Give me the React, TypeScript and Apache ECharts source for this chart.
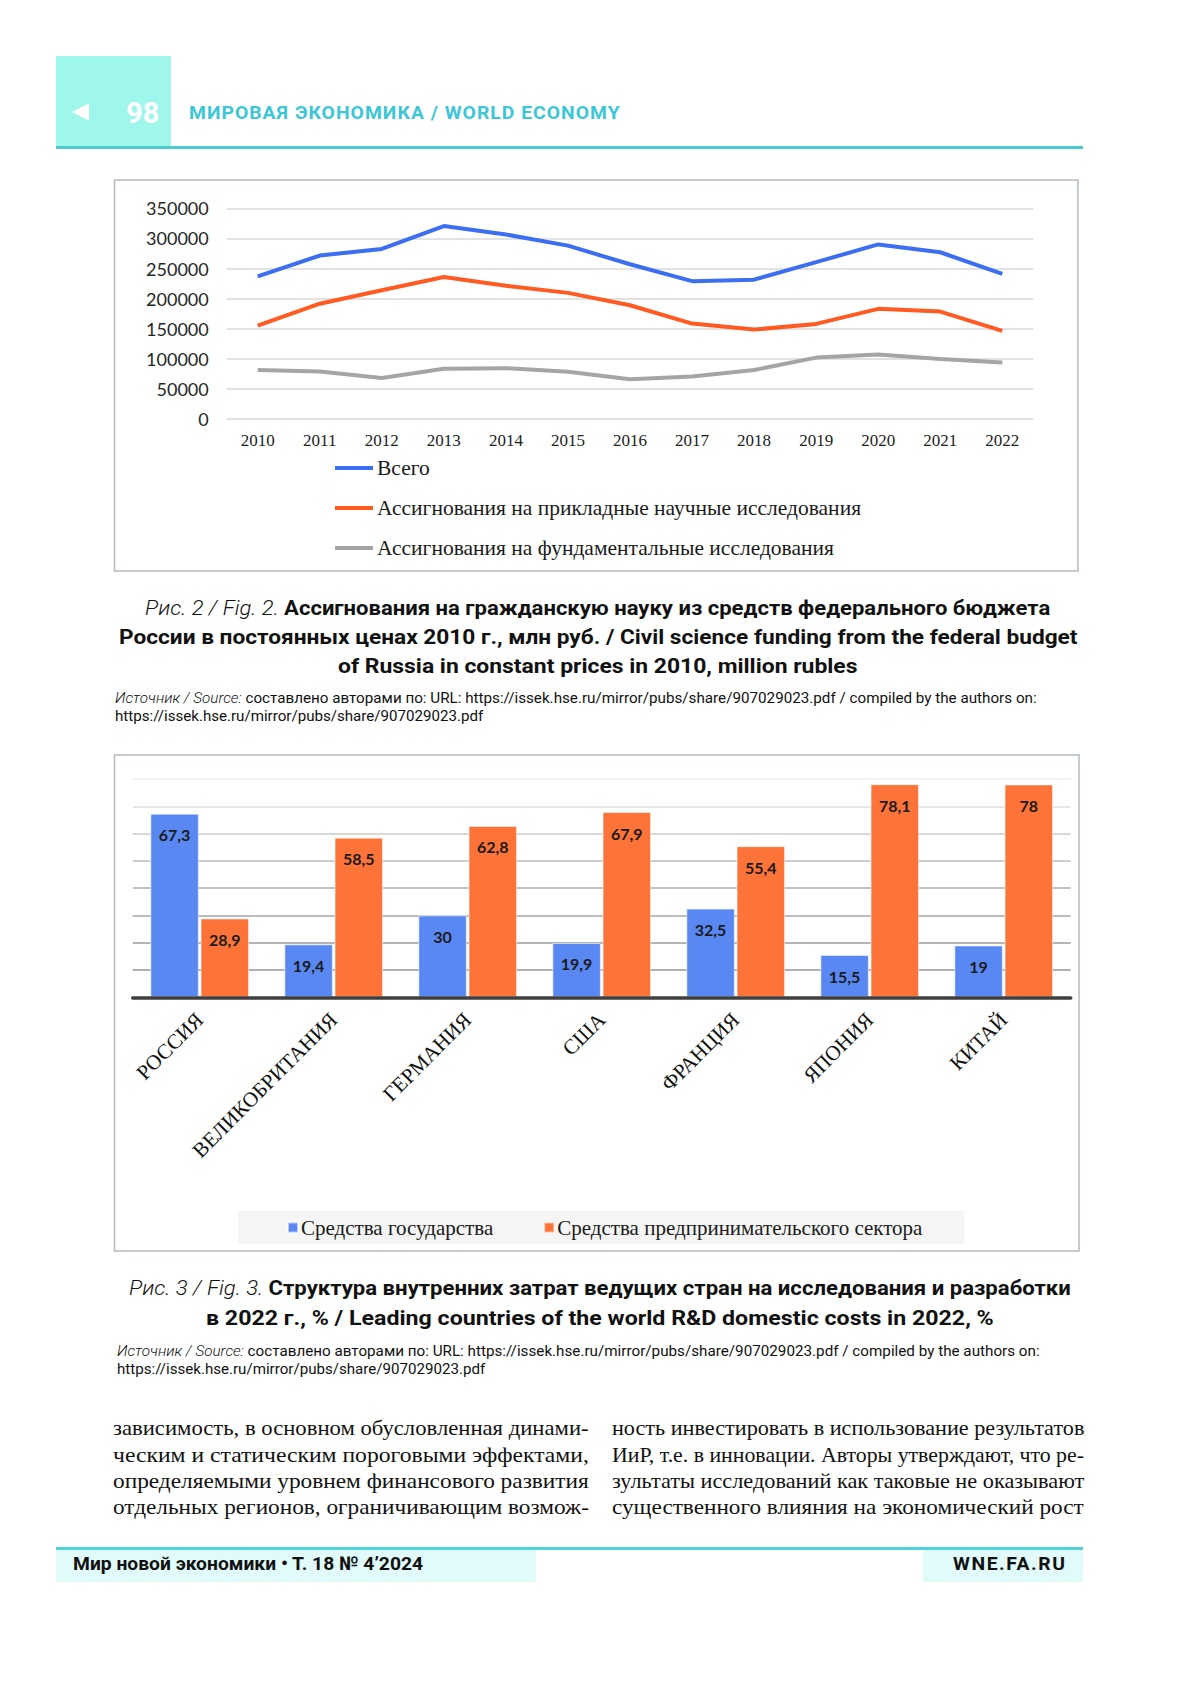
import React, { useEffect, useLayoutEffect, useRef } from "react";
import * as echarts from "echarts";

// ---------- data ----------
const years = ["2010", "2011", "2012", "2013", "2014", "2015", "2016", "2017", "2018", "2019", "2020", "2021", "2022"];
const totalFunding = [237000, 271500, 282500, 320500, 306500, 288000, 257000, 229000, 231500, 260500, 290000, 277000, 241000];
const appliedFunding = [155000, 191500, 214000, 236000, 221500, 209500, 189000, 158500, 148500, 158000, 183000, 178500, 146500];
const basicFunding = [81500, 79000, 68000, 83500, 84500, 78500, 66000, 70500, 81500, 102000, 107000, 99500, 94000];
const lineNames = [
  "Всего",
  "Ассигнования на прикладные научные исследования",
  "Ассигнования на фундаментальные исследования",
];

const countries = ["РОССИЯ", "ВЕЛИКОБРИТАНИЯ", "ГЕРМАНИЯ", "США", "ФРАНЦИЯ", "ЯПОНИЯ", "КИТАЙ"];
const govShare = [67.3, 19.4, 30, 19.9, 32.5, 15.5, 19];
const businessShare = [28.9, 58.5, 62.8, 67.9, 55.4, 78.1, 78];
const barNames = ["Средства государства", "Средства предпринимательского сектора"];

const SANS = "Roboto, 'Noto Sans', 'DejaVu Sans', sans-serif";
const SERIF = "'Liberation Serif', 'Times New Roman', serif";
const CAL = "Lato, 'Open Sans', sans-serif";

// ---------- text line fitted to a measured width ----------
function FitLine(props: {
  x: number; y: number; w: number; h?: number; center?: boolean; justify?: boolean;
  style?: React.CSSProperties; children: React.ReactNode;
}) {
  const { x, y, w, h = 24, center = false, justify = false, style, children } = props;
  const ref = useRef<HTMLSpanElement>(null);
  useLayoutEffect(() => {
    const measure = () => {
      const el = ref.current;
      if (!el) return;
      el.style.wordSpacing = "0px";
      el.style.transform = "none";
      const nat = el.offsetWidth;
      if (!nat) return;
      const spaces = ((el.textContent || "").match(/ /g) || []).length;
      if (justify && nat <= w && spaces > 0) {
        el.style.wordSpacing = (w - nat) / spaces + "px";
      } else {
        el.style.transform = `scaleX(${w / nat})`;
      }
    };
    measure();
    const f = (document as any).fonts;
    if (f && f.ready) f.ready.then(measure);
  }, [w, justify]);
  return (
    <div
      style={{
        position: "absolute",
        left: center ? x - w / 2 : x,
        top: y - h / 2,
        width: w,
        height: h,
        lineHeight: h + "px",
        whiteSpace: "nowrap",
        overflow: "visible",
        ...style,
      }}
    >
      <span ref={ref} style={{ display: "inline-block", transformOrigin: "left center" }}>
        {children}
      </span>
    </div>
  );
}

const capStyle: React.CSSProperties = { fontFamily: SANS, fontSize: 21, color: "#111" };
const it: React.CSSProperties = { fontStyle: "italic", fontWeight: 300 };
const bd: React.CSSProperties = { fontWeight: 700 };
const srcStyle: React.CSSProperties = { fontFamily: SANS, fontSize: 14, color: "#111" };
const bodyStyle: React.CSSProperties = { fontFamily: SERIF, fontSize: 22, color: "#111" };

export default function App() {
  const chartRef = useRef<HTMLDivElement>(null);

  useEffect(() => {
    if (!chartRef.current) return;
    const chart = echarts.init(chartRef.current, null, { renderer: "svg" });
    const fmt = (p: any) => String(p.value).replace(".", ",");
    chart.setOption({
      animation: false,
      backgroundColor: "transparent",
      graphic: [
        { type: "rect", z: -1, shape: { x: 114.5, y: 180, width: 963.5, height: 391 }, style: { fill: "#fff", stroke: "#b4bcbc", lineWidth: 1.5 } },
        { type: "rect", z: -1, shape: { x: 114.5, y: 755, width: 964.5, height: 496 }, style: { fill: "#fff", stroke: "#b4bcbc", lineWidth: 1.5 } },
      ],
      grid: [
        { left: 226.7, top: 208.3, width: 806.6, height: 210.7, containLabel: false, outerBoundsMode: "none" },
        { left: 132.7, top: 779, width: 938, height: 218.3, containLabel: false, outerBoundsMode: "none" },
      ],
      legend: [
        {
          data: lineNames,
          orient: "vertical",
          left: 335,
          top: 457,
          icon: "rect",
          itemWidth: 38,
          itemHeight: 4,
          itemGap: 18,
          padding: 0,
          textStyle: { fontFamily: SERIF, fontSize: 21.5, color: "#1a1a1a", padding: [0, 0, 0, -1] },
        },
        {
          data: barNames,
          orient: "horizontal",
          left: 238,
          top: 1211,
          icon: "rect",
          itemWidth: 10,
          itemHeight: 10,
          itemGap: 50,
          padding: [6, 42, 6, 49],
          backgroundColor: "#f5f5f5",
          textStyle: { fontFamily: SERIF, fontSize: 21, color: "#1a1a1a", padding: [0, 0, 0, -2] },
        },
      ],
      xAxis: [
        {
          type: "category",
          gridIndex: 0,
          data: years,
          boundaryGap: true,
          axisLine: { show: false },
          axisTick: { show: false },
          axisLabel: { fontFamily: SERIF, fontSize: 17, color: "#222", margin: 13 },
        },
        {
          type: "category",
          gridIndex: 1,
          data: countries,
          boundaryGap: true,
          axisLine: { show: true, lineStyle: { color: "#3f3f3f", width: 3.5 } },
          axisTick: { show: false },
          axisLabel: { fontFamily: SERIF, fontSize: 21, color: "#111", rotate: 45, margin: 19, interval: 0 },
          z: 5,
        },
      ],
      yAxis: [
        {
          type: "value",
          gridIndex: 0,
          min: 0,
          max: 350000,
          interval: 50000,
          axisLine: { show: false },
          axisTick: { show: false },
          axisLabel: { fontFamily: CAL, fontSize: 18, color: "#262626", margin: 18, formatter: (v: number) => String(v) },
          splitLine: { lineStyle: { color: "#d9d9d9", width: 1.5 } },
        },
        {
          type: "value",
          gridIndex: 1,
          min: 0,
          max: 80,
          interval: 10,
          axisLine: { show: false },
          axisTick: { show: false },
          axisLabel: { show: false },
          splitLine: {
            lineStyle: {
              color: ["#b0b0b0", "#b0b0b0", "#b5b5b5", "#bcbcbc", "#c2c2c2", "#cdcdcd", "#d8d8d8", "#e6e6e6", "#f3f3f3"],
              width: 2,
            },
          },
        },
      ],
      series: [
        { name: lineNames[0], type: "line", xAxisIndex: 0, yAxisIndex: 0, data: totalFunding, showSymbol: false, lineStyle: { color: "#3b6ef1", width: 4 }, itemStyle: { color: "#3b6ef1" } },
        { name: lineNames[1], type: "line", xAxisIndex: 0, yAxisIndex: 0, data: appliedFunding, showSymbol: false, lineStyle: { color: "#ff5a22", width: 4 }, itemStyle: { color: "#ff5a22" } },
        { name: lineNames[2], type: "line", xAxisIndex: 0, yAxisIndex: 0, data: basicFunding, showSymbol: false, lineStyle: { color: "#a5a5a5", width: 4 }, itemStyle: { color: "#a5a5a5" } },
        {
          name: barNames[0], type: "bar", xAxisIndex: 1, yAxisIndex: 1, data: govShare,
          barWidth: 48.5, barGap: "3.5%",
          itemStyle: { color: "#5a88f2", borderColor: "rgba(255,255,255,0.55)", borderWidth: 1 },
          label: { show: true, position: "insideTop", distance: 13, fontFamily: CAL, fontSize: 16, fontWeight: "bold", color: "#1a1a1a", formatter: fmt },
        },
        {
          name: barNames[1], type: "bar", xAxisIndex: 1, yAxisIndex: 1, data: businessShare,
          barWidth: 48.5, barGap: "3.5%",
          itemStyle: { color: "#fe7337", borderColor: "rgba(255,255,255,0.55)", borderWidth: 1 },
          label: { show: true, position: "insideTop", distance: 13, fontFamily: CAL, fontSize: 16, fontWeight: "bold", color: "#1a1a1a", formatter: fmt },
        },
      ],
    });
    return () => chart.dispose();
  }, []);

  return (
    <div style={{ position: "absolute", left: 0, top: 0, width: 1200, height: 1697, background: "#fff", overflow: "hidden" }}>
      <div ref={chartRef} style={{ position: "absolute", left: 0, top: 0, width: 1200, height: 1697 }} />

      {/* header */}
      <div style={{ position: "absolute", left: 56, top: 56, width: 115, height: 91, background: "#9ff6ea" }} />
      <div style={{ position: "absolute", left: 72, top: 103, width: 0, height: 0, borderTop: "9px solid transparent", borderBottom: "9px solid transparent", borderRight: "17px solid #fff" }} />
      <FitLine x={126} y={113} w={33} h={34} style={{ fontFamily: SANS, fontSize: 30, fontWeight: 700, color: "#fff" }}>98</FitLine>
      <FitLine x={189} y={113} w={432} h={24} style={{ fontFamily: SANS, fontSize: 19, fontWeight: 700, color: "#3cc6d6", letterSpacing: 1 }}>
        МИРОВАЯ ЭКОНОМИКА / WORLD ECONOMY
      </FitLine>
      <div style={{ position: "absolute", left: 56, top: 146, width: 1027, height: 3, background: "#4ccbd3" }} />

      {/* caption 1 */}
      <FitLine x={597} y={608} w={905} h={28} center style={capStyle}>
        <span style={it}>Рис. 2 / Fig. 2. </span>
        <span style={bd}>Ассигнования на гражданскую науку из средств федерального бюджета</span>
      </FitLine>
      <FitLine x={598} y={637} w={958} h={28} center style={capStyle}>
        <span style={bd}>России в постоянных ценах 2010 г., млн руб. / Civil science funding from the federal budget</span>
      </FitLine>
      <FitLine x={597} y={666} w={519} h={28} center style={capStyle}>
        <span style={bd}>of Russia in constant prices in 2010, million rubles</span>
      </FitLine>
      <FitLine x={114.5} y={698} w={922} h={18} style={srcStyle}>
        <span style={it}>Источник / Source:</span> составлено авторами по: URL: https://issek.hse.ru/mirror/pubs/share/907029023.pdf / compiled by the authors on:
      </FitLine>
      <FitLine x={114.5} y={716} w={368} h={18} style={srcStyle}>
        https://issek.hse.ru/mirror/pubs/share/907029023.pdf
      </FitLine>

      {/* caption 2 */}
      <FitLine x={600} y={1288} w={942} h={28} center style={capStyle}>
        <span style={it}>Рис. 3 / Fig. 3. </span>
        <span style={bd}>Структура внутренних затрат ведущих стран на исследования и разработки</span>
      </FitLine>
      <FitLine x={600} y={1318} w={788} h={28} center style={capStyle}>
        <span style={bd}>в 2022 г., % / Leading countries of the world R&amp;D domestic costs in 2022, %</span>
      </FitLine>
      <FitLine x={117} y={1351} w={923} h={18} style={srcStyle}>
        <span style={it}>Источник / Source:</span> составлено авторами по: URL: https://issek.hse.ru/mirror/pubs/share/907029023.pdf / compiled by the authors on:
      </FitLine>
      <FitLine x={117} y={1369} w={368} h={18} style={srcStyle}>
        https://issek.hse.ru/mirror/pubs/share/907029023.pdf
      </FitLine>

      {/* body text */}
      <FitLine x={113} y={1428} w={476} h={26} style={bodyStyle}>зависимость, в основном обусловленная динами-</FitLine>
      <FitLine x={113} y={1455} w={476} h={26} style={bodyStyle}>ческим и статическим пороговыми эффектами,</FitLine>
      <FitLine x={113} y={1481} w={476} h={26} style={bodyStyle}>определяемыми уровнем финансового развития</FitLine>
      <FitLine x={113} y={1507} w={476} h={26} style={bodyStyle}>отдельных регионов, ограничивающим возмож-</FitLine>
      <FitLine x={612} y={1428} w={472} h={26} style={bodyStyle}>ность инвестировать в использование результатов</FitLine>
      <FitLine x={612} y={1455} w={472} h={26} style={bodyStyle}>ИиР, т.е. в инновации. Авторы утверждают, что ре-</FitLine>
      <FitLine x={612} y={1481} w={472} h={26} style={bodyStyle}>зультаты исследований как таковые не оказывают</FitLine>
      <FitLine x={612} y={1507} w={472} h={26} style={bodyStyle}>существенного влияния на экономический рост</FitLine>

      {/* footer */}
      <div style={{ position: "absolute", left: 56, top: 1547, width: 1027, height: 2.5, background: "#4fd3d8" }} />
      <div style={{ position: "absolute", left: 56, top: 1549.5, width: 480, height: 32, background: "#e0fbf9" }} />
      <div style={{ position: "absolute", left: 923, top: 1549.5, width: 160, height: 32, background: "#e0fbf9" }} />
      <FitLine x={73} y={1564} w={350} h={26} style={{ fontFamily: SANS, fontSize: 19, fontWeight: 700, color: "#111" }}>
        Мир новой экономики • Т. 18 № 4’2024
      </FitLine>
      <FitLine x={953} y={1564} w={113} h={26} style={{ fontFamily: SANS, fontSize: 19, fontWeight: 700, color: "#111", letterSpacing: 1.5 }}>
        WNE.FA.RU
      </FitLine>
    </div>
  );
}
